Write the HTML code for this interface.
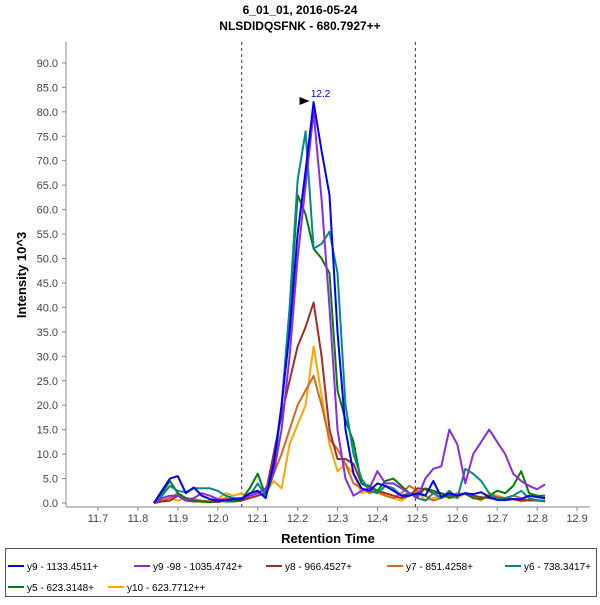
<!DOCTYPE html>
<html><head><meta charset="utf-8"><style>
body{margin:0;background:#fff;font-family:"Liberation Sans",sans-serif}
</style></head><body>
<svg id="chart" width="600" height="600" xmlns="http://www.w3.org/2000/svg" font-family="Liberation Sans, sans-serif">
<rect width="600" height="600" fill="#fff"/>
<text x="300" y="14" text-anchor="middle" font-size="12" font-weight="bold">6_01_01, 2016-05-24</text>
<text x="300" y="30" text-anchor="middle" font-size="12" font-weight="bold">NLSDIDQSFNK - 680.7927++</text>
<text transform="translate(26,275) rotate(-90)" text-anchor="middle" font-size="13" font-weight="bold">Intensity 10^3</text>
<text x="328" y="543" text-anchor="middle" font-size="13" font-weight="bold">Retention Time</text>
<g id="axes"></g>
<g id="series"></g>
<g id="legend"></g>
</svg>
<script>
const times=[];for(let i=0;i<50;i++)times.push(+(11.84+0.02*i).toFixed(2));
const xTicks=[11.7,11.8,11.9,12.0,12.1,12.2,12.3,12.4,12.5,12.6,12.7,12.8,12.9];
const yTicks=[0,5,10,15,20,25,30,35,40,45,50,55,60,65,70,75,80,85,90];
const markers=[12.06,12.495];
const names=["y9 - 1133.4511+","y9 -98 - 1035.4742+","y8 - 966.4527+","y7 - 851.4258+","y6 - 738.3417+","y5 - 623.3148+","y10 - 623.7712++"];
const colors=["#0000ff","#8a2be2","#a52a2a","#d2691e","#008b8b","#008000","#ffa500"];
const sY9=[0,2.5,5,5.5,2,3.2,1.5,0.8,0.5,0.6,0.8,0.8,2,2.5,1,8,20,35,55,68,82,72,63,35,15,6,3,2.5,4,3.5,2.5,1.5,1.5,2,1.5,4.5,1.2,2,1.5,2,1.8,2.2,1.2,0.6,0.6,0.8,0.8,1.5,1.2,1];
const sY9b=[0,1,1.5,1.5,0.5,1,2,1.5,0.8,0.5,0.8,1,1.5,2,3,6,15,30,50,65,80,62,40,15,5,1.5,2.5,3,6.5,4,4,3,2,1,5,7,7.5,15,12,4,10,12.5,15,12.5,10,6,4.5,3.5,2.8,3.8];
const sY8=[0,0.3,0.5,1.5,0.5,0.3,0.3,0.2,0.2,0.5,0.3,0.5,1,1.5,2,10,18,25,32,36,41,30,15,9,9,8,4,3,2.5,2,1.5,1,1.5,3,2.8,2,2,1.5,1.5,2,1.5,1.2,1,0.8,1,0.8,0.5,0.6,0.6,0.4];
const sY7=[0,0.5,1,2,1,0.8,0.5,0.3,0.5,1,0.8,0.5,1.5,2,3,6,10,15,20,23,26,20,13,11,8,4,3,2,2.5,1.5,1,2,3.5,2.5,1.5,0.5,1,1.5,2,1.8,1,0.8,1.5,1.2,1,1.5,1,0.5,0.5,0.3];
const sY6=[0,1.5,3.5,2.5,2.2,3,3,3,2.5,1.5,1,1,1.5,4,1.5,7,20,40,66,76,52,53,55.5,47,20,10,5,2.5,2,3.5,3,1.5,2,1,0.5,2,1,2.5,1,7,6,4.5,2,1,1,1.5,2.5,1,0.5,0.5];
const sY5=[0,2,4.5,2,1,0.5,0.3,0.2,0.5,0.3,0.3,0.8,3,6,1.5,6,20,38,63,59,52,50,47,23,17,12.5,4,3.5,2.5,4.5,5,3.5,2,1.5,3,2.5,2,1,1.5,2,1,0.8,1.5,2.5,2,3.5,6.5,2,1.5,1.5];
const sY10=[0,0.5,1,0.5,1,0.8,0.2,0.5,0.8,2,1.5,2,1,1.5,2,4.5,3,12,16,20,32,22,12,6.5,8,6,2,2.5,2,1.5,1,0.5,1.5,2.5,0.5,1,1.5,1.2,1,2,1.2,0.5,2,1.5,1,0.8,0.3,0.6,0.5,0.5];
const series=[sY9,sY9b,sY8,sY7,sY6,sY5,sY10];
const drawOrder=[6,3,2,5,4,1,0];
const NS="http://www.w3.org/2000/svg";
const X=t=>98+(t-11.7)*399.2;
const Y=v=>503-v*4.89;
function mk(tag,a,p){const e=document.createElementNS(NS,tag);for(const k in a)e.setAttribute(k,a[k]);p.appendChild(e);return e;}
const ax=document.getElementById('axes');
const yl=mk('line',{x1:66,y1:42,x2:66,y2:507,stroke:'#888'},ax);


const xl=mk('line',{x1:66,y1:507,x2:590,y2:507,stroke:'#888'},ax);


yTicks.forEach(v=>{mk('line',{x1:62,y1:Y(v),x2:66,y2:Y(v),stroke:'#888'},ax);
const t=mk('text',{x:58,y:Y(v)+4,'text-anchor':'end','font-size':11,fill:'#444'},ax);t.textContent=v.toFixed(1);

});
xTicks.forEach(v=>{mk('line',{x1:X(v),y1:507,x2:X(v),y2:511,stroke:'#888'},ax);
const t=mk('text',{x:X(v),y:522,'text-anchor':'middle','font-size':11,fill:'#444'},ax);t.textContent=v.toFixed(1);

});
markers.forEach(m=>{const l=mk('line',{x1:X(m),y1:42,x2:X(m),y2:507,stroke:'#333','stroke-dasharray':'3,3'},ax);

});
const sg=document.getElementById('series');
drawOrder.forEach(k=>{const d=series[k].map((v,i)=>(i?'L':'M')+X(times[i]).toFixed(1)+','+Y(v).toFixed(1)).join('');
const p=mk('path',{d:d,fill:'none',stroke:colors[k],'stroke-width':2,'stroke-linejoin':'round'},sg);

});
let pi=0;sY9.forEach((v,i)=>{if(v>sY9[pi])pi=i;});
const px=X(times[pi]),py=Y(sY9[pi]);
const ar=mk('polygon',{points:`${px-14},${py-5} ${px-4},${py-1} ${px-14},${py+3}`,fill:'#000'},sg);


const at=mk('text',{x:px+7,y:py-5,'text-anchor':'middle','font-size':10,fill:'#0000ff'},sg);at.textContent='12.2';


const lg=document.getElementById('legend');
const box=mk('rect',{x:5.5,y:548.5,width:591,height:48,fill:'#fff',stroke:'#555'},lg);


const posFix=[[8,566],[134,566],[266,566],[387,566],[505,566],[8,587],[108,587]];
names.forEach((n,k)=>{const [x,y]=posFix[k];const g=mk('g',{},lg);


mk('line',{x1:x,y1:y,x2:x+16,y2:y,stroke:colors[k],'stroke-width':2},g);
const t=mk('text',{x:x+19,y:y+4,'font-size':10,fill:'#000'},g);t.textContent=n;});
</script>
</body></html>
